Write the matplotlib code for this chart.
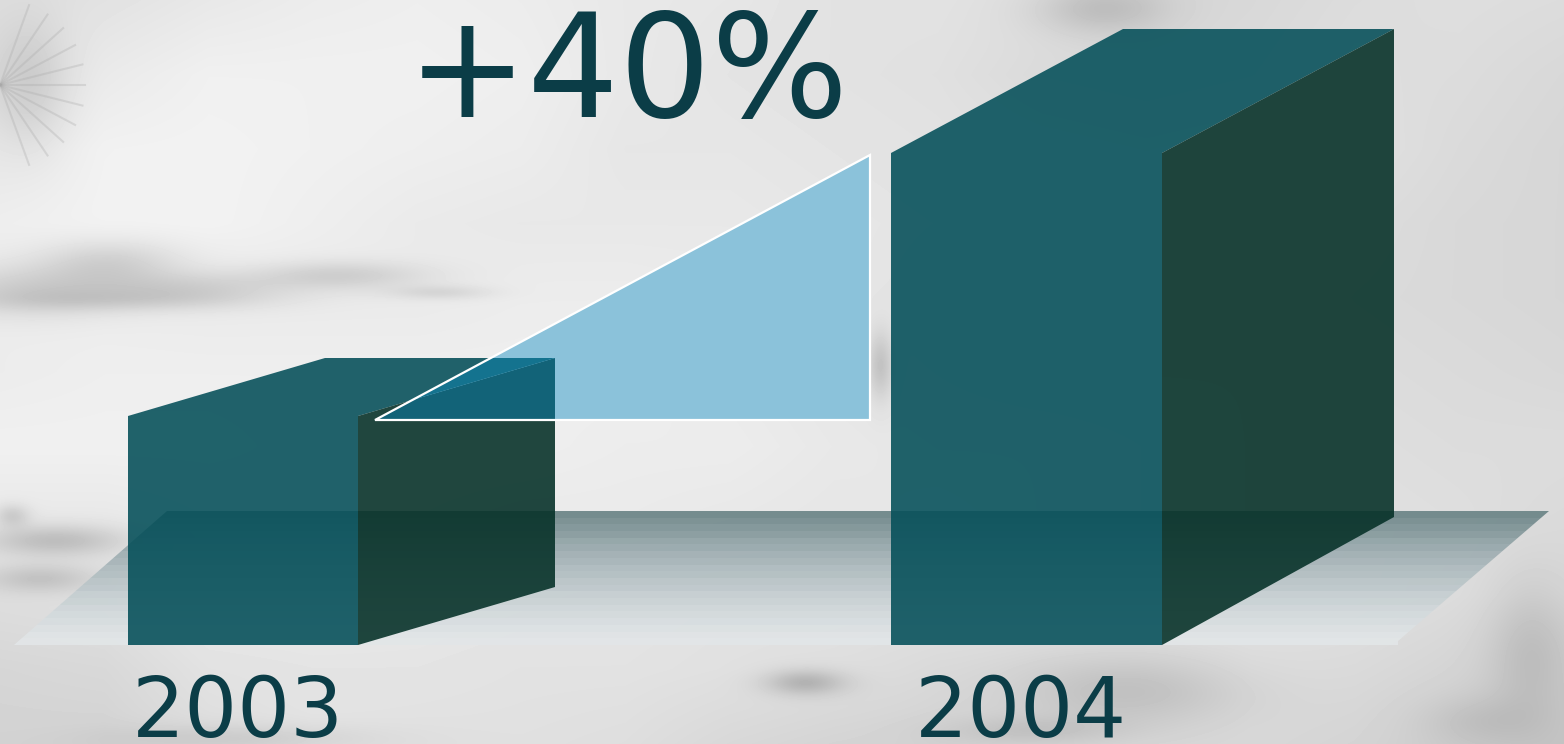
#!/usr/bin/env python3
# -*- coding: utf-8 -*-

import numpy as np
import matplotlib
matplotlib.use("Agg")
import matplotlib.pyplot as plt
from matplotlib.patches import Polygon
from matplotlib.colors import LinearSegmentedColormap

years = ["2003", "2004"]
heights = [229, 492]
change_label = "+40%"

# rough grey levels of the photo behind the chart
backdrop = [
    [222, 226, 232, 236, 238, 236, 232, 230, 226, 226, 222, 214, 216, 220, 222, 220],
    [222, 234, 240, 240, 240, 238, 232, 228, 226, 224, 218, 216, 218, 222, 220, 216],
    [232, 241, 242, 240, 238, 236, 230, 230, 228, 226, 224, 222, 224, 224, 218, 214],
    [238, 242, 242, 238, 234, 232, 232, 232, 230, 228, 226, 226, 224, 220, 216, 214],
    [236, 236, 234, 234, 234, 236, 236, 234, 230, 226, 224, 226, 222, 218, 216, 214],
    [236, 238, 238, 238, 238, 238, 238, 234, 230, 228, 226, 226, 226, 220, 218, 216],
    [240, 240, 240, 238, 238, 238, 236, 236, 232, 230, 230, 228, 226, 222, 220, 220],
    [232, 232, 236, 238, 236, 234, 234, 232, 230, 232, 230, 228, 226, 224, 222, 218],
    [222, 224, 234, 234, 232, 230, 228, 226, 226, 226, 226, 224, 224, 224, 220, 216],
    [214, 216, 226, 228, 228, 226, 226, 224, 222, 218, 218, 220, 222, 218, 212, 208],
    [210, 210, 220, 226, 224, 224, 222, 216, 212, 210, 214, 216, 216, 212, 204, 198],
]
# soft patches in the photo: x, y, x spread, y spread, darkening
patches = [
    (110, 262, 50, 16, 28), (30, 290, 70, 18, 30), (190, 288, 70, 12, 26),
    (340, 275, 60, 10, 28), (440, 292, 35, 5, 20), (110, 300, 90, 8, 18),
    (880, 365, 9, 24, 34), (1100, 8, 45, 18, 28), (30, 85, 26, 45, 22),
    (55, 540, 50, 11, 40), (40, 578, 40, 10, 30), (12, 515, 12, 8, 28),
    (805, 682, 28, 9, 42), (1130, 690, 80, 26, 26), (1530, 650, 30, 50, 22),
    (240, 738, 90, 10, 18), (1480, 720, 40, 18, 14), (1030, 730, 60, 10, 18),
]
floor_bands = [109, 118, 126, 134, 144, 150, 158, 164, 172, 176, 184, 188, 196, 200,
               206, 210, 214, 218, 222, 224]

ink = "#0b3d47"
front_col = (6/255, 80/255, 90/255, 0.89)
side_col = (6/255, 49/255, 40/255, 0.89)

fig = plt.figure(figsize=(15.64, 7.44), dpi=100)
ax = fig.add_axes([0, 0, 1, 1])
ax.set_xlim(0, 1564)
ax.set_ylim(744, 0)
ax.axis("off")

# photo: coarse grid upsampled, then the soft patches taken out of it
grid = np.array(backdrop, dtype=float)
yy, xx = np.mgrid[0:744, 0:1564]
gy = yy / 743 * (grid.shape[0] - 1)
gx = xx / 1563 * (grid.shape[1] - 1)
y0 = np.clip(gy.astype(int), 0, grid.shape[0] - 2)
x0 = np.clip(gx.astype(int), 0, grid.shape[1] - 2)
fy, fx = gy - y0, gx - x0
photo = (grid[y0, x0]*(1-fx)*(1-fy) + grid[y0, x0+1]*fx*(1-fy)
         + grid[y0+1, x0]*(1-fx)*fy + grid[y0+1, x0+1]*fx*fy)
for cx, cy, sx, sy, amt in patches:
    photo -= amt*np.exp(-((xx-cx)/sx)**2/2 - ((yy-cy)/sy)**2/2)
ax.imshow(photo, cmap="gray", vmin=0, vmax=255, extent=[0, 1564, 744, 0],
          interpolation="bilinear", aspect="auto", zorder=0)

# palm fronds top left
for ang in np.radians(np.arange(-70, 80, 14)):
    ax.plot([0, 85*np.cos(ang)], [85, 85 + 85*np.sin(ang)], color="#a8a8a8", lw=1.5, alpha=0.3, zorder=1)

# floor
floor = Polygon([(14, 645), (167, 511), (1549, 511), (1398, 641), (1398, 645)], fc="none", ec="none", zorder=2)
ax.add_patch(floor)
floor_cm = LinearSegmentedColormap.from_list("floor", ["#6b8486", "#a8b6ba", "#e2e6e8"])
im = ax.imshow(np.array(floor_bands, dtype=float)[:, None], cmap=floor_cm, vmin=109, vmax=224,
               extent=[0, 1564, 645, 511], interpolation="nearest", aspect="auto", zorder=2, alpha=0.92)
im.set_clip_path(floor)

ax.set_xlim(0, 1564)
ax.set_ylim(744, 0)

# boxes
base = 645
lefts = [128, 891]
widths = [230, 271]
depths = [(197, 58, 58), (232, 124, 128)]
year_x = [238, 1021]
for i in range(2):
    xa, xb = lefts[i], lefts[i] + widths[i]
    top = base - heights[i]
    dx, dy, dyb = depths[i]
    ax.add_patch(Polygon([(xa, base), (xa, top), (xb, top), (xb, base)], fc=front_col, ec="none", zorder=3))
    ax.add_patch(Polygon([(xa, top), (xa + dx, top - dy), (xb + dx, top - dy), (xb, top)],
                         fc=front_col, ec="none", zorder=3))
    ax.add_patch(Polygon([(xb, base), (xb, top), (xb + dx, top - dy), (xb + dx, base - dyb)],
                         fc=side_col, ec="none", zorder=3))
    ax.text(year_x[i], 737, years[i], color=ink, fontsize=60, ha="center", va="baseline", zorder=6)

# rise triangle, with the part over the small box tinted darker
tri_pts = [(375, 420), (870, 155), (870, 420)]
ax.add_patch(Polygon(tri_pts, fc="#8bc2da", ec="none", zorder=4))
clip_tri = Polygon(tri_pts, fc="none", ec="none", zorder=4)
ax.add_patch(clip_tri)
xb = lefts[0] + widths[0]
top = base - heights[0]
dx, dy, dyb = depths[0]
p = ax.add_patch(Polygon([(xb, top), (xb + dx, top - dy), (xb + dx, base - dy), (xb, base)], fc="#126378", ec="none", zorder=4.1))
p.set_clip_path(clip_tri)
p = ax.add_patch(Polygon([(lefts[0], top), (lefts[0] + dx, top - dy), (xb + dx, top - dy), (xb, top)], fc="#14738f", ec="none", zorder=4.2))
p.set_clip_path(clip_tri)
ax.add_patch(Polygon(tri_pts, fc="none", ec="white", lw=1.6, joinstyle="miter", zorder=5))

ax.text(628, 117, change_label, color=ink, fontsize=104, ha="center", va="baseline", zorder=6)

fig.savefig("out.png", dpi=100)
